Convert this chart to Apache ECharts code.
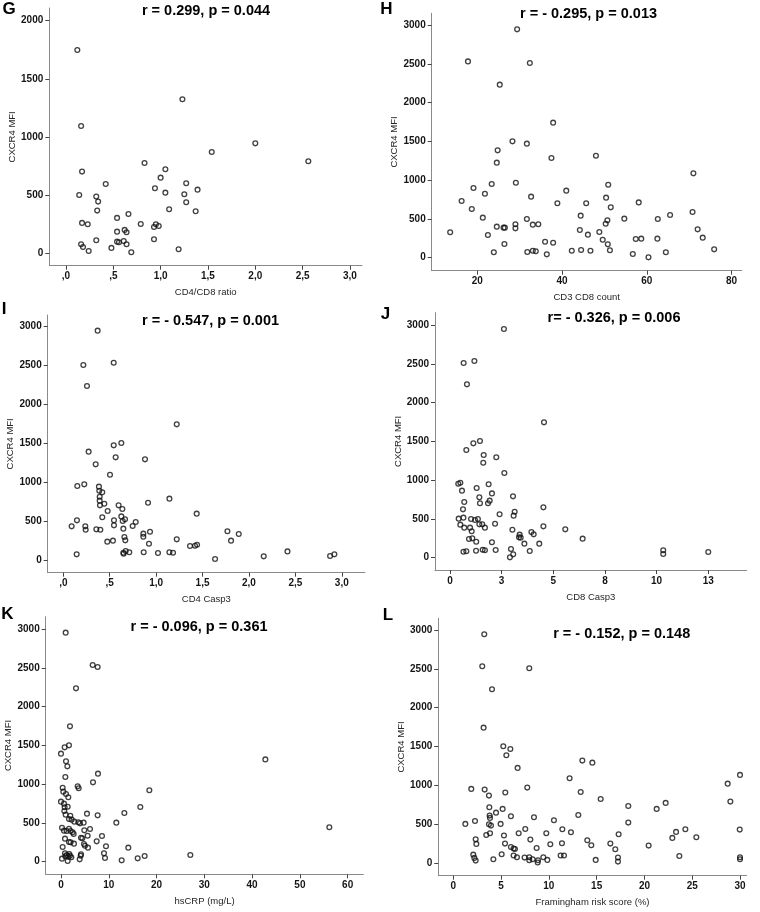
<!DOCTYPE html>
<html><head><meta charset="utf-8">
<script src="https://cdn.jsdelivr.net/npm/echarts@6/dist/echarts.min.js"></script>
<style>html,body{margin:0;padding:0;background:#fff}#c{width:760px;height:912px}</style>
</head><body><div id="c"></div>
<script>
// ---- Data ----
const gX = [0.12,1.23,0.16,2.00,1.54,2.56,0.83,0.17,1.05,1.00,1.27,0.42,0.94,1.39,1.05,1.25,0.14,0.32,0.34,1.27,1.09,0.33,1.37,0.66,0.54,0.17,0.23,0.79,0.95,0.98,0.93,0.54,0.62,0.64,0.93,0.32,0.54,0.56,0.61,0.64,0.16,0.18,0.48,1.19,0.24,0.69];
const gY = [1748,1324,1094,945,871,791,776,702,722,650,602,596,559,547,521,507,501,487,444,438,378,367,361,338,304,261,249,252,249,235,226,186,201,180,120,112,100,95,106,77,77,54,46,34,20,9];

const hX = [29.4,17.8,32.4,25.3,37.9,28.3,31.7,24.8,48.0,37.5,24.6,71.0,23.4,29.1,50.9,19.1,41.0,21.8,32.7,50.4,16.3,38.9,45.7,58.1,51.5,18.7,70.8,65.5,44.4,21.3,31.7,54.7,62.6,50.7,50.3,29.0,34.4,33.1,24.6,26.2,26.5,29.0,44.2,48.8,72.0,46.1,13.6,22.5,73.2,57.4,58.7,62.5,49.6,36.0,37.9,26.4,50.8,51.3,33.1,33.8,42.3,44.5,46.7,31.8,23.9,64.5,56.7,36.4,60.4,75.9];
const hY = [2944,2531,2510,2231,1741,1500,1470,1384,1315,1285,1225,1087,950,967,941,898,864,825,787,774,731,701,701,713,649,628,589,550,542,516,499,503,499,481,438,430,430,426,400,387,387,378,357,331,365,297,327,292,258,241,245,245,232,206,193,176,172,95,90,82,90,99,90,73,69,69,47,43,4,107];

const iX = [0.370,0.216,0.543,0.255,1.222,0.543,0.625,0.273,0.564,0.880,0.349,0.503,0.151,0.226,0.384,0.388,0.420,0.392,0.392,0.442,0.395,0.596,0.636,1.143,0.913,0.478,1.437,0.625,0.420,0.665,0.147,0.546,0.640,0.780,0.090,0.237,0.546,0.747,0.647,0.241,0.356,0.399,1.768,0.934,0.862,1.890,0.862,0.658,0.668,1.222,0.535,0.474,1.807,0.923,1.365,1.419,1.441,0.672,0.647,0.711,0.866,1.020,1.143,1.182,0.650,0.144,2.415,2.159,2.92,2.874,1.635];
const iY = [2949,2507,2537,2237,1744,1474,1504,1393,1320,1294,1230,1097,951,973,943,891,870,814,763,724,703,703,656,789,737,630,596,561,549,523,510,510,501,489,433,433,446,437,403,390,394,390,369,364,339,334,300,296,253,266,249,236,249,210,180,184,197,116,94,99,99,90,99,94,81,73,111,47,73,51,13];

const jX = [2.61,1.18,0.66,0.82,4.55,1.45,1.13,0.79,1.63,2.24,1.61,2.63,0.40,0.50,1.87,1.29,0.58,2.03,3.05,1.42,1.92,0.69,1.84,1.45,4.52,0.63,3.13,2.40,3.08,0.42,0.65,1.02,1.21,1.35,2.18,1.42,1.56,0.50,4.52,0.69,0.97,1.69,5.58,3.02,1.05,3.94,4.05,3.37,3.42,3.34,6.42,0.92,1.08,1.27,2.03,3.60,4.32,10.32,10.32,12.50,2.95,0.65,0.79,1.26,1.58,1.69,2.21,3.86,3.06,2.90];
const jY = [2948,2536,2510,2235,1745,1504,1474,1388,1324,1294,1225,1092,954,967,946,898,864,829,791,778,735,718,701,701,649,623,593,559,542,503,516,499,486,499,438,430,430,426,404,387,387,387,365,361,340,331,301,297,258,262,245,241,249,206,198,181,181,95,47,73,112,77,82,90,103,95,99,86,43,4];

const kX = [0.98,6.63,7.67,3.14,1.88,1.67,0.77,0.0,1.05,1.33,42.77,7.74,6.70,0.91,18.49,3.49,3.70,0.35,0.49,1.05,1.53,0.0,0.63,0.77,1.40,16.60,0.70,13.26,5.44,7.67,0.98,1.95,1.67,2.23,2.79,3.63,3.98,4.74,11.58,56.16,0.21,6.07,4.88,1.67,0.63,1.19,2.02,2.44,2.65,4.19,4.47,5.58,8.58,0.84,1.67,2.02,7.47,2.72,4.81,5.02,5.65,9.42,14.09,0.35,9.00,9.21,4.12,4.19,3.91,17.51,16.05,12.70,27.07,0.21,0.91,1.19,1.53,1.88,2.16,1.40,0.84,1.74];
const kY = [2953,2536,2510,2235,1745,1500,1474,1393,1294,1229,1319,1135,1023,1092,920,971,946,954,903,873,830,774,748,701,709,705,653,628,619,597,606,593,550,542,516,507,494,503,503,443,438,421,404,425,400,395,395,378,357,309,301,335,331,297,254,249,262,232,228,206,181,198,181,189,107,47,77,95,30,73,43,17,86,39,69,86,64,77,56,9,107,99];

const lX = [3.24,3.03,7.95,4.05,3.17,5.23,5.97,5.55,13.50,14.55,6.73,12.17,30.0,28.71,1.88,3.28,5.44,7.74,13.33,3.73,15.42,28.99,22.22,18.31,3.77,21.28,5.16,4.47,13.08,6.03,8.44,3.80,3.84,10.53,2.27,18.31,1.26,4.95,3.73,3.94,7.53,11.41,24.28,29.97,23.31,12.31,9.73,6.84,3.84,17.30,3.45,5.30,25.43,22.92,8.06,14.02,2.34,2.41,5.41,11.37,10.15,16.43,14.44,20.44,6.03,6.31,6.45,16.95,8.72,2.09,5.06,6.31,11.23,11.58,23.65,6.66,7.46,7.95,9.42,17.23,30.0,2.20,2.34,4.19,7.95,8.30,8.86,8.83,9.84,14.90,17.23,30.0];
const lY = [2944,2533,2507,2237,1744,1504,1470,1389,1320,1294,1226,1093,1136,1024,956,947,909,973,917,870,827,793,776,737,720,699,699,651,621,604,591,613,583,553,544,523,506,506,501,484,441,437,437,433,403,399,386,386,386,373,364,356,334,326,304,296,309,249,253,257,244,253,231,227,210,189,184,180,197,111,116,99,99,99,94,77,73,77,77,73,77,69,34,51,39,51,39,9,43,43,21,51];

// ---- Ticks / labels ----
const gYTicks = [0,500,1000,1500,2000];
const yTicks3000 = [0,500,1000,1500,2000,2500,3000];
const ratioXTicks = [0,0.5,1,1.5,2,2.5,3];
const ratioXTickLabels = [',0',',5','1,0','1,5','2,0','2,5','3,0'];
const hXTicks = [20,40,60,80];
const hXTickLabels = ['20','40','60','80'];
const jXTicks = [0,2.5,5,7.5,10,12.5];
const jXTickLabels = ['0','3','5','8','10','13'];
const kXTicks = [0,10,20,30,40,50,60];
const kXTickLabels = ['0','10','20','30','40','50','60'];
const lXTicks = [0,5,10,15,20,25,30];
const lXTickLabels = ['0','5','10','15','20','25','30'];

const letters = ['G','H','I','J','K','L'];
const titles = ['r = 0.299, p = 0.044','r = - 0.295, p = 0.013','r = - 0.547, p = 0.001','r= - 0.326, p = 0.006','r = - 0.096, p = 0.361','r = - 0.152, p = 0.148'];
const xNames = ['CD4/CD8 ratio','CD3 CD8 count','CD4 Casp3','CD8 Casp3','hsCRP (mg/L)','Framingham risk score (%)'];
const yName = 'CXCR4 MFI';

// ---- Layout (positions/styles) ----
const panels = [
  {x:gX,y:gY,xt:ratioXTicks,xl:ratioXTickLabels,yt:gYTicks,xr:[-0.176,3.127],yr:[-107,2109],g:[49.3,8,312.7,257.7],lp:[9,9.5],tp:[206,11]},
  {x:hX,y:hY,xt:hXTicks,xl:hXTickLabels,yt:yTicks3000,xr:[9.24,82.4],yr:[-168,3151],g:[431.7,13.3,310,257.4],lp:[386.5,9],tp:[588.5,14]},
  {x:iX,y:iY,xt:ratioXTicks,xl:ratioXTickLabels,yt:yTicks3000,xr:[-0.168,3.25],yr:[-163,3150],g:[47.7,315,317.3,257.7],lp:[4,309],tp:[210.5,321]},
  {x:jX,y:jY,xt:jXTicks,xl:jXTickLabels,yt:yTicks3000,xr:[-0.726,14.36],yr:[-159,3159],g:[435,312.7,311.7,257.3],lp:[385.5,314],tp:[614,317.5]},
  {x:kX,y:kY,xt:kXTicks,xl:kXTickLabels,yt:yTicks3000,xr:[-3.2,63.27],yr:[-163,3159],g:[45.7,616.7,317.6,257.6],lp:[7.5,614],tp:[199,626.7]},
  {x:lX,y:lY,xt:lXTicks,xl:lXTickLabels,yt:yTicks3000,xr:[-1.57,30.7],yr:[-160,3150],g:[438.3,618.3,308.4,257.4],lp:[388,615.5],tp:[621.7,634]}
];

const FONT = '"Liberation Sans", Arial, sans-serif';
const tickLabelStyle = {fontFamily:FONT, fontWeight:'bold', fontSize:10, color:'#151515'};
const nameStyle = {fontFamily:FONT, fontSize:9.5, color:'#262626'};

const option = {
  animation:false,
  backgroundColor:'#fff',
  grid: panels.map(p => ({left:p.g[0], top:p.g[1], width:p.g[2], height:p.g[3], containLabel:false, outerBoundsMode:'none', show:false})),
  xAxis: panels.map((p,i) => ({
    type:'value', gridIndex:i, min:p.xr[0], max:p.xr[1],
    name:xNames[i], nameLocation:'middle', nameGap:22, nameMoveOverlap:false, nameTextStyle:nameStyle,
    axisLine:{show:true, onZero:false, lineStyle:{color:'#8a8a8a', width:1}},
    axisTick:{show:true, length:4, customValues:p.xt, lineStyle:{color:'#444', width:1}},
    axisLabel:Object.assign({show:true, margin:6, customValues:p.xt, hideOverlap:false,
      formatter:(v) => { const k = p.xt.findIndex(t => Math.abs(t - v) < 1e-9); return k >= 0 ? p.xl[k] : ''; }}, tickLabelStyle),
    splitLine:{show:false}
  })),
  yAxis: panels.map((p,i) => ({
    type:'value', gridIndex:i, min:p.yr[0], max:p.yr[1],
    name:yName, nameLocation:'middle', nameGap:32, nameMoveOverlap:false, nameTextStyle:nameStyle,
    axisLine:{show:true, onZero:false, lineStyle:{color:'#8a8a8a', width:1}},
    axisTick:{show:true, length:4, customValues:p.yt, lineStyle:{color:'#444', width:1}},
    axisLabel:Object.assign({show:true, margin:6, customValues:p.yt, hideOverlap:false,
      formatter:(v) => String(Math.round(v))}, tickLabelStyle),
    splitLine:{show:false}
  })),
  series: panels.map((p,i) => ({
    type:'scatter', xAxisIndex:i, yAxisIndex:i, silent:true,
    data:p.x.map((v,k) => [v, p.y[k]]),
    symbol:'circle', symbolSize:4.8,
    itemStyle:{color:'rgba(255,255,255,0)', borderColor:'#111', borderWidth:1.3},
    emphasis:{disabled:true}
  })),
  graphic: [].concat(
    panels.map((p,i) => ({type:'text', x:p.lp[0], y:p.lp[1], silent:true,
      style:{text:letters[i], font:'bold 17px ' + FONT, fill:'#000', textAlign:'center', textVerticalAlign:'middle'}})),
    panels.map((p,i) => ({type:'text', x:p.tp[0], y:p.tp[1], silent:true,
      style:{text:titles[i], font:'bold 14.5px ' + FONT, fill:'#000', textAlign:'center', textVerticalAlign:'middle'}}))
  )
};

const chart = echarts.init(document.getElementById('c'), null, {renderer:'canvas'});
chart.setOption(option);
</script>
</body></html>
